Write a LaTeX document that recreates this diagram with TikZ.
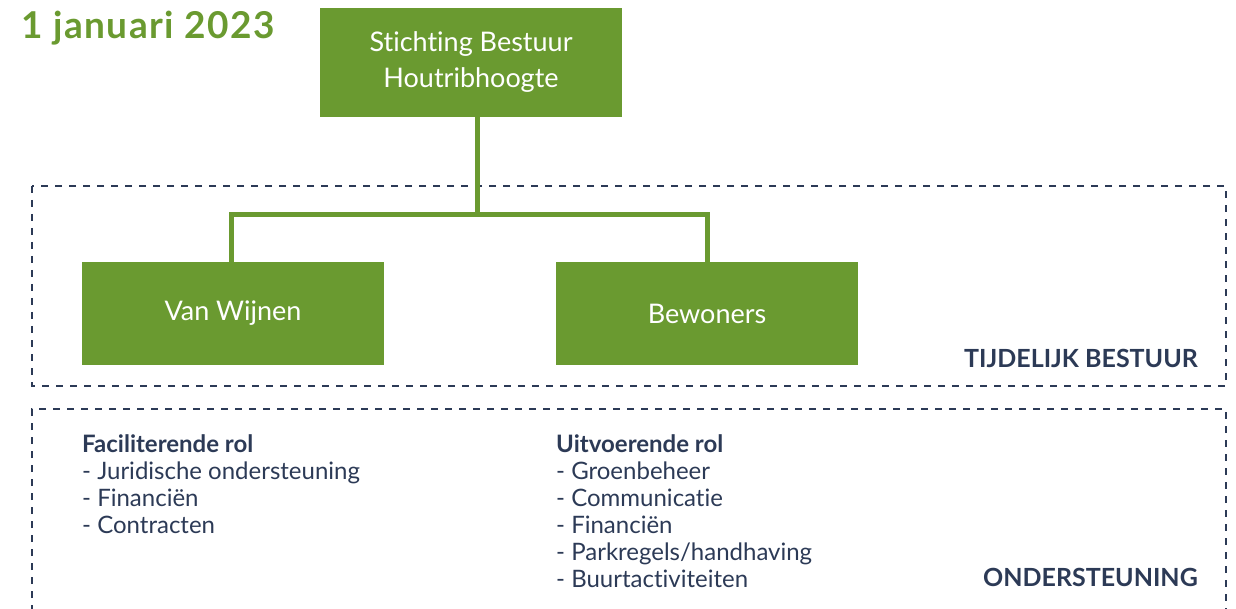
\documentclass[tikz,border=0pt]{standalone}
\usepackage{fontspec}
\setmainfont{Lato}[Ligatures={TeX,NoCommon}]
\usepackage{tikz}
\usetikzlibrary{positioning, calc}
\definecolor{hrGreen}{RGB}{106, 154, 48}
\definecolor{hrNavy}{RGB}{44, 58, 86}

\begin{document}
\begin{tikzpicture}[x=1pt, y=-1pt,
    orgbox/.style={fill=hrGreen, text=white, minimum width=302pt, align=center,
      font=\fontsize{27}{35}\selectfont, inner sep=0pt},
    link/.style={draw=hrGreen, line width=5pt},
    frame/.style={draw=hrNavy, line width=2pt, dash pattern=on 7pt off 7pt},
    tag/.style={text=hrNavy, font=\fontsize{25}{28}\selectfont\bfseries, inner sep=0pt, anchor=base east},
    rollist/.style={text=hrNavy, font=\fontsize{24}{27}\selectfont, align=left, inner sep=0pt, anchor=north west}]
  \useasboundingbox (0,0) rectangle (1236,609);
  \clip (0,0) rectangle (1236,609);

  % Title
  \node[text=hrGreen, font=\fontsize{37}{40}\selectfont\bfseries\addfontfeature{LetterSpace=4}, inner sep=0pt, anchor=base east]
    (date) at (275,39) {1 januari 2023};

  % Frames
  \draw[frame] (32,186) rectangle (1226,386);
  \draw[frame] (32,640) -- (32,409) -- (1226,409) -- (1226,640);
  \node[tag] (tb) at (1198,367) {TIJDELIJK BESTUUR};
  \node[tag] (os) at (1198,586) {ONDERSTEUNING};

  % Boxes
  \node[orgbox, minimum height=109pt] (stichting) at (471,62.5) {\raisebox{-3pt}{Stichting Bestuur}\\[1pt]\raisebox{-3pt}{Houtribhoogte}};
  \node[orgbox, minimum height=103pt] (vanwijnen) at (233,313.5) {Van Wijnen};
  \node[orgbox, minimum height=103pt] (bewoners) at (707,313.5) {Bewoners};

  % Links
  \draw[link] (stichting.south) ++(6,0) -- ++(0,97) -| (vanwijnen.north -| 231,0);
  \draw[link] (stichting.south) ++(6,0) -- ++(0,97) -| (bewoners.north);

  % Roles
  \node[rollist] (facil) at (82,434) {\textbf{Faciliterende rol}\\- Juridische ondersteuning\\- Financiën\\- Contracten};
  \node[rollist] (uitv) at (556,434) {\textbf{Uitvoerende rol}\\- Groenbeheer\\- Communicatie\\- Financiën\\- Parkregels/handhaving\\- Buurtactiviteiten};
\end{tikzpicture}
\end{document}
